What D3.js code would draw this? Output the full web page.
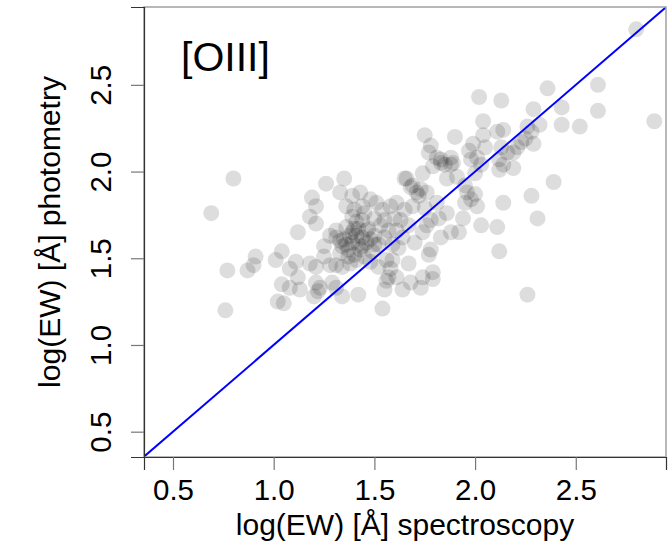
<!DOCTYPE html>
<html>
<head>
<meta charset="utf-8">
<script src="https://cdn.jsdelivr.net/npm/d3@7"></script>
<style>
  body { margin: 0; background: #fff; }
  svg { display: block; }
  text { font-family: "Liberation Sans", Arial, Helvetica, sans-serif; fill: #000; }
</style>
</head>
<body>
<svg id="chart" width="669" height="546"></svg>
<script>
const xTicks = [0.5, 1.0, 1.5, 2.0, 2.5];
const yTicks = [0.5, 1.0, 1.5, 2.0, 2.5];
const xLimits = [0.356, 2.948];
const yLimits = [0.354, 2.949];
const panelLabel = "[OIII]";
const xTitle = "log(EW) [Å] spectroscopy";
const yTitle = "log(EW) [Å] photometry";

// log(EW) from spectroscopy
const specEW = [
  0.69,0.80,0.77,0.76,0.87,0.90,0.91,1.01,1.04,1.08,
  1.11,1.04,1.08,1.13,1.02,1.05,1.12,1.18,1.21,1.25,
  1.28,1.19,1.21,1.18,1.21,1.26,1.35,1.33,1.39,1.43,
  1.36,1.40,1.21,1.23,1.22,1.20,1.29,1.31,1.34,1.42,
  1.54,1.55,1.64,1.56,1.61,1.12,1.25,1.31,1.28,1.31,
  1.34,1.38,1.41,1.34,1.37,1.39,1.33,1.36,1.39,1.41,
  1.44,1.48,1.51,1.54,1.58,1.65,1.68,1.31,
  1.44,1.47,1.41,1.50,1.46,1.43,1.49,1.52,1.55,1.53,
  1.57,1.59,1.48,1.52,1.56,1.45,1.40,1.35,1.44,1.42,
  1.60,1.63,1.61,1.65,1.69,1.64,1.67,1.58,1.57,1.48,
  1.39,1.45,1.50,1.55,1.37,
  1.38,1.42,1.46,1.36,1.40,1.44,1.50,1.33,
  1.66,1.74,1.69,1.71,1.76,1.79,1.83,1.88,1.91,1.86,
  1.96,2.00,2.01,1.95,2.14,1.94,2.03,2.11,2.12,1.92,
  1.88,1.83,1.86,1.82,1.78,1.76,1.74,1.70,1.78,1.77,
  1.67,1.62,1.59,1.73,1.72,
  1.68,1.73,1.74,1.79,1.79,
  1.61,
  2.02,2.13,2.04,2.11,2.14,2.04,1.90,1.75,1.78,1.77,
  1.83,1.88,1.89,1.99,1.97,2.05,2.01,1.98,2.13,2.16,
  2.14,1.81,1.85,
  2.21,2.23,2.12,2.12,2.19,2.03,2.00,
  1.95,1.98,
  2.28,2.39,2.31,
  2.80,2.36,2.61,2.61,2.89,2.29,2.43,2.43,2.52,2.32,2.26,2.28,2.29,2.25,
  2.19,2.26,1.75,1.81
];

// log(EW) from photometry
const photEW = [
  1.76,1.96,1.43,1.20,1.43,1.46,1.51,1.49,1.54,1.44,
  1.48,1.35,1.33,1.32,1.25,1.24,1.65,1.47,1.45,1.57,
  1.63,1.85,1.80,1.74,1.70,1.93,1.96,1.88,1.86,1.88,
  1.80,1.78,1.36,1.33,1.31,1.28,1.36,1.33,1.28,1.29,
  1.21,1.32,1.32,1.37,1.39,1.39,1.51,1.62,1.46,1.46,
  1.45,1.47,1.49,1.57,1.55,1.59,1.53,1.68,1.65,1.63,
  1.80,1.84,1.82,1.78,1.80,1.96,1.91,1.66,
  1.72,1.67,1.71,1.63,1.59,1.55,1.54,1.58,1.62,1.69,
  1.66,1.58,1.48,1.45,1.49,1.51,1.52,1.61,1.62,1.67,
  1.73,1.72,1.66,1.78,1.80,1.62,1.69,1.44,1.39,1.61,
  1.74,1.76,1.73,1.72,1.51,
  1.63,1.58,1.66,1.58,1.67,1.57,1.58,1.60,
  1.96,1.99,1.92,1.88,1.88,2.03,2.05,2.04,1.97,1.96,
  1.88,1.87,1.80,1.82,1.82,1.73,1.69,1.68,1.54,1.65,
  1.65,1.62,1.76,1.73,1.72,1.69,1.65,1.59,1.55,1.52,
  1.47,1.56,1.49,1.90,1.86,
  1.36,1.33,1.39,1.38,1.42,
  1.82,
  2.43,2.41,2.29,2.23,2.24,2.21,2.20,2.21,2.15,2.11,
  2.07,2.08,2.05,2.16,2.12,2.14,2.08,2.07,2.14,2.11,
  2.04,2.08,2.04,
  2.14,2.17,2.07,2.01,2.02,2.04,1.99,
  1.92,1.84,
  1.86,1.94,1.73,
  2.82,2.48,2.50,2.35,2.29,2.36,2.37,2.27,2.26,2.27,2.26,2.23,2.16,2.19,
  2.11,1.29,1.79,1.82
];

const points = specEW.map((d, i) => ({ x: d, y: photEW[i] }));

const svg = d3.select("#chart");
const margin = { left: 144, right: 3, top: 7, bottom: 89 };
const width = +svg.attr("width");
const height = +svg.attr("height");

const x = d3.scaleLinear().domain(xLimits).range([margin.left, width - margin.right]);
const y = d3.scaleLinear().domain(yLimits).range([height - margin.bottom, margin.top]);

svg.append("rect")
  .attr("width", width).attr("height", height).attr("fill", "#fff");

svg.append("defs").append("clipPath").attr("id", "plot-clip")
  .append("rect")
  .attr("x", x.range()[0]).attr("y", y.range()[1])
  .attr("width", x.range()[1] - x.range()[0])
  .attr("height", y.range()[0] - y.range()[1]);

// points
svg.append("g")
  .attr("clip-path", "url(#plot-clip)")
  .selectAll("circle")
  .data(points)
  .join("circle")
  .attr("cx", d => x(d.x))
  .attr("cy", d => y(d.y))
  .attr("r", 8)
  .attr("fill", "rgba(0,0,0,0.135)");

// 1:1 line
const lo = Math.min(xLimits[0], yLimits[0]);
const hi = Math.max(xLimits[1], yLimits[1]);
svg.append("line")
  .attr("clip-path", "url(#plot-clip)")
  .attr("x1", x(lo)).attr("y1", y(lo))
  .attr("x2", x(hi)).attr("y2", y(hi))
  .attr("stroke", "#0000ff")
  .attr("stroke-width", 2);

// box
svg.append("rect")
  .attr("x", x.range()[0]).attr("y", y.range()[1])
  .attr("width", x.range()[1] - x.range()[0])
  .attr("height", y.range()[0] - y.range()[1])
  .attr("fill", "none")
  .attr("stroke", "#a0a0a0")
  .attr("stroke-width", 1.5);

// axes
const fmt = d3.format(".1f");
const xAxis = svg.append("g")
  .attr("transform", `translate(0,${y.range()[0]})`)
  .call(d3.axisBottom(x).tickValues(xTicks).tickFormat(fmt).tickSize(13).tickPadding(15));
const yAxis = svg.append("g")
  .attr("transform", `translate(${x.range()[0]},0)`)
  .call(d3.axisLeft(y).tickValues(yTicks).tickFormat(fmt).tickSize(13));

[xAxis, yAxis].forEach(g => {
  g.select(".domain").attr("stroke", "#333").attr("stroke-width", 1.2);
  g.selectAll(".tick line").attr("stroke", "#777").attr("stroke-width", 1.2);
  g.selectAll(".tick text")
    .attr("font-size", 29.5)
    .attr("font-family", '"Liberation Sans", Arial, sans-serif')
    .attr("fill", "#000");
});

xAxis.selectAll(".tick text").attr("dy", null).attr("y", 43);

// rotated y tick labels, centred on ticks
yAxis.selectAll(".tick text")
  .attr("x", null).attr("dy", null)
  .attr("text-anchor", "middle")
  .attr("transform", "translate(-33,0) rotate(-90)");

// titles
svg.append("text")
  .attr("x", (x.range()[0] + x.range()[1]) / 2)
  .attr("y", 535)
  .attr("text-anchor", "middle")
  .attr("font-size", 30)
  .text(xTitle);

svg.append("text")
  .attr("transform", `translate(60,${(y.range()[0] + y.range()[1]) / 2}) rotate(-90)`)
  .attr("text-anchor", "middle")
  .attr("font-size", 30)
  .text(yTitle);

svg.append("text")
  .attr("x", 181)
  .attr("y", 71)
  .attr("font-size", 41)
  .text(panelLabel);
</script>
</body>
</html>
